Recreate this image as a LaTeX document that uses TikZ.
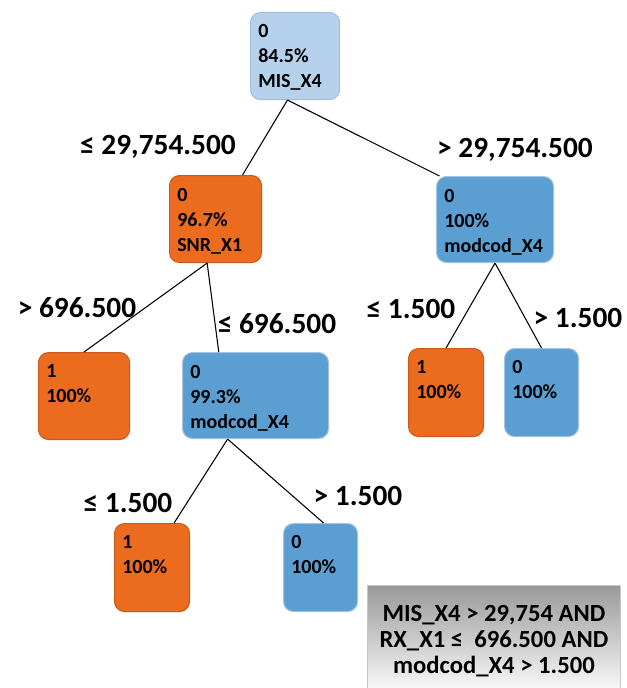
\documentclass[tikz,border=0pt]{standalone}
\usepackage{fontspec}
\setmainfont{Carlito}
\usetikzlibrary{calc}
\definecolor{rootblue}{HTML}{B5D1EC}
\definecolor{rootedge}{HTML}{A3C0DE}
\definecolor{orangefill}{HTML}{EC6C1F}
\definecolor{orangeedge}{HTML}{C95B19}
\definecolor{bluefill}{HTML}{5B9FD2}
\definecolor{blueedge}{HTML}{A2C2DF}
\tikzset{
  treebox/.style={rectangle, rounded corners=7.5pt, line width=0.8pt, inner sep=0pt,
    anchor=north west},
  rootbox/.style={treebox, fill=rootblue, draw=rootedge},
  obox/.style={treebox, fill=orangefill, draw=orangeedge},
  bbox/.style={treebox, fill=bluefill, draw=blueedge},
  boxtext/.style={anchor=north west, inner sep=0pt, align=left,
    font=\fontsize{15}{18.75}\selectfont\bfseries},
  cond/.style={anchor=base, inner sep=0pt, font=\fontsize{22}{26}\selectfont\bfseries},
  branch/.style={draw=black, line width=0.8pt}
}
\begin{document}
\begin{tikzpicture}[x=0.75pt, y=-0.75pt]
\useasboundingbox (0,0) rectangle (626,688);

% decision nodes
\node[rootbox, minimum width=66.75pt, minimum height=65.25pt] (root) at (250,12) {};
\node[boxtext] (root-t) at (258,24) {0\\84.5\%\\MIS\_X4};

\node[obox, minimum width=69pt, minimum height=65.25pt] (snr) at (169,175) {};
\node[boxtext] (snr-t) at (177,188) {0\\96.7\%\\SNR\_X1};

\node[bbox, minimum width=87.75pt, minimum height=64.5pt] (modr) at (436,176) {};
\node[boxtext] (modr-t) at (444,189) {0\\100\%\\modcod\_X4};

\node[bbox, minimum width=109.5pt, minimum height=64.5pt] (modl) at (182,352) {};
\node[boxtext] (modl-t) at (190,365) {0\\99.3\%\\modcod\_X4};

% leaves
\node[obox, minimum width=68.25pt, minimum height=65.25pt] (leafa) at (38,352) {};
\node[boxtext] (leafa-t) at (46,364) {1\\100\%};

\node[obox, minimum width=56.25pt, minimum height=66pt] (leafb) at (408,348) {};
\node[boxtext] (leafb-t) at (416,360) {1\\100\%};

\node[bbox, minimum width=55.5pt, minimum height=66pt] (leafc) at (504,348) {};
\node[boxtext] (leafc-t) at (512,360) {0\\100\%};

\node[obox, minimum width=56.25pt, minimum height=66pt] (leafd) at (114,523) {};
\node[boxtext] (leafd-t) at (122,535) {1\\100\%};

\node[bbox, minimum width=55.5pt, minimum height=66pt] (leafe) at (283,523) {};
\node[boxtext] (leafe-t) at (291,535) {0\\100\%};

% branches
\draw[branch] ($(root.south west)!0.416!(root.south east)$) -- ($(snr.north west)!0.79!(snr.north east)$);
\draw[branch] ($(root.south west)!0.416!(root.south east)$) -- ($(modr.north west)!0.03!(modr.north east)$);
\draw[branch] ($(snr.south west)!0.41!(snr.south east)$) -- (leafa.north);
\draw[branch] ($(snr.south west)!0.41!(snr.south east)$) -- ($(modl.north west)!0.25!(modl.north east)$);
\draw[branch] (modr.south) -- (leafb.north);
\draw[branch] (modr.south) -- (leafc.north);
\draw[branch] ($(modl.south west)!0.31!(modl.south east)$) -- ($(leafd.north west)!0.79!(leafd.north east)$);
\draw[branch] ($(modl.south west)!0.31!(modl.south east)$) -- ($(leafe.north west)!0.54!(leafe.north east)$);

% split conditions
\node[cond] (c1) at (158,155) {≤ 29,754.500};
\node[cond] (c2) at (515,157) {> 29,754.500};
\node[cond] (c3) at (77,317) {> 696.500};
\node[cond] (c4) at (277,333) {≤ 696.500};
\node[cond] (c5) at (411,318) {≤ 1.500};
\node[cond] (c6) at (578,327) {> 1.500};
\node[cond] (c7) at (128,512) {≤ 1.500};
\node[cond] (c8) at (358,505) {> 1.500};

% rule summary
\node[rectangle, anchor=north west, inner sep=0pt, minimum width=189.75pt,
  minimum height=77.25pt, top color=black!40, bottom color=black!3,
  draw=black!22, line width=0.6pt] (rule) at (367,585) {};
\node[align=center, inner sep=0pt, font=\fontsize{18.5}{19.5}\selectfont\bfseries]
  (rule-t) at ($(rule.center)+(0,4)$)
  {MIS\_X4 > 29,754 AND\\RX\_X1 ≤~ 696.500 AND\\modcod\_X4 > 1.500};
\end{tikzpicture}
\end{document}
